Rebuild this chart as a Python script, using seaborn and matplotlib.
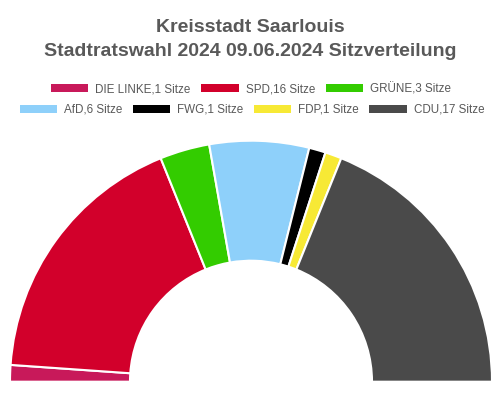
import matplotlib
matplotlib.use("Agg")
import matplotlib.pyplot as plt
import seaborn as sns
from matplotlib.patches import Patch

sns.set_theme(style="white")
plt.rcParams['font.family'] = ['Liberation Sans', 'DejaVu Sans']

parties = ["DIE LINKE", "SPD", "GRÜNE", "AfD", "FWG", "FDP", "CDU"]
seats = [1, 16, 3, 6, 1, 1, 17]
colors = ["#C8195A", "#D2002B", "#33CC00", "#8ED0FA", "#000000", "#F7E935", "#4A4A4A"]
labels = [f"{p},{s} Sitze" for p, s in zip(parties, seats)]
title_lines = ["Kreisstadt Saarlouis", "Stadtratswahl 2024 09.06.2024 Sitzverteilung"]

W, H = 500, 393
fig = plt.figure(figsize=(W / 100, H / 100), dpi=100)
fig.patch.set_facecolor("white")

cx, cy, R, r_in = 251, 381.7, 241, 121
ax = fig.add_axes([0, 0, 1, 1])

vals = seats + [sum(seats)]
wedges, _ = ax.pie(vals, colors=colors + ["white"], startangle=180, counterclock=False,
                   radius=1, center=(0, 0), frame=True,
                   wedgeprops=dict(width=(R - r_in) / R, edgecolor="white", linewidth=1.5))
wedges[-1].set_visible(False)
ax.set_xlim(-cx / R, (W - cx) / R)
ax.set_ylim(-(H - cy) / R, cy / R)
ax.set_aspect("auto")
ax.axis("off")

tc = "#595959"
fig.text(0.5, 1 - 28 / H, title_lines[0], ha="center", va="center", fontsize=14, fontweight="bold", color=tc)
fig.text(0.5, 1 - 52 / H, title_lines[1], ha="center", va="center", fontsize=14, fontweight="bold", color=tc)

handles = [Patch(facecolor=c, edgecolor="none") for c in colors]
common = dict(frameon=False, fontsize=8.4, handlelength=3.2, handleheight=0.7,
              handletextpad=0.6, columnspacing=0.9, labelcolor=tc, borderpad=0, borderaxespad=0)
leg1 = fig.legend(handles[:3], labels[:3], ncol=3, loc="center", bbox_to_anchor=(0.502, 1 - 89 / H), **common)
leg2 = fig.legend(handles[3:], labels[3:], ncol=4, loc="center", bbox_to_anchor=(0.504, 1 - 110 / H), **common)

fig.savefig("out.png", dpi=100, facecolor="white")
